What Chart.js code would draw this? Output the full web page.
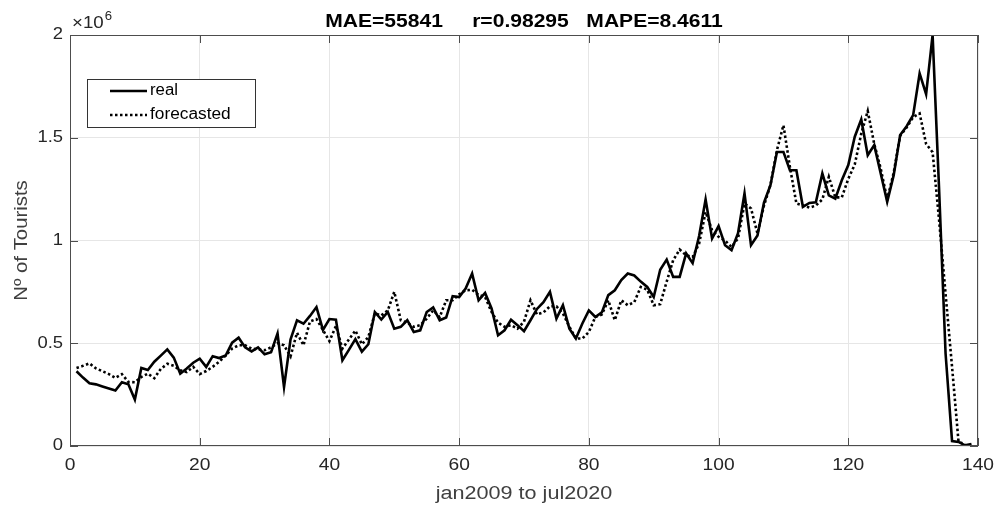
<!DOCTYPE html>
<html lang="en">
<head>
    <meta charset="UTF-8" />
    <title>Tourists forecast</title>
    <style>
        html, body { margin: 0; padding: 0; background: #fff; }
        canvas { display: block; }
    </style>
</head>
<body>

<canvas id="tourChart" width="998" height="508"></canvas>

<script src="https://cdn.jsdelivr.net/npm/chart.js"></script>
<script>
    // month index: 1 = jan2009 ... 139 = jul2020
    const months = Array.from({ length: 139 }, (_, i) => i + 1);

    // tourists (in millions)
    const realM = [
        0.364, 0.333, 0.305, 0.300, 0.290, 0.280, 0.270, 0.310, 0.300, 0.226,
        0.380, 0.370, 0.410, 0.440, 0.470, 0.430, 0.352, 0.377, 0.405, 0.425,
        0.385, 0.437, 0.428, 0.440, 0.503, 0.527, 0.480, 0.460, 0.480, 0.446,
        0.456, 0.547, 0.287, 0.518, 0.611, 0.595, 0.633, 0.676, 0.565, 0.618,
        0.615, 0.417, 0.468, 0.520, 0.459, 0.495, 0.652, 0.615, 0.652, 0.571,
        0.580, 0.612, 0.555, 0.563, 0.652, 0.674, 0.612, 0.625, 0.729, 0.725,
        0.766, 0.839, 0.709, 0.745, 0.669, 0.539, 0.563, 0.614, 0.588, 0.559,
        0.612, 0.667, 0.700, 0.750, 0.620, 0.685, 0.571, 0.523, 0.596, 0.660,
        0.628, 0.650, 0.734, 0.758, 0.807, 0.839, 0.830, 0.800, 0.774, 0.725,
        0.858, 0.907, 0.823, 0.823, 0.937, 0.890, 1.022, 1.200, 1.010, 1.070,
        0.977, 0.953, 1.036, 1.229, 0.977, 1.024, 1.184, 1.269, 1.431, 1.431,
        1.342, 1.342, 1.164, 1.183, 1.186, 1.326, 1.220, 1.204, 1.293, 1.367,
        1.505, 1.589, 1.415, 1.464, 1.326, 1.188, 1.318, 1.513, 1.556, 1.610,
        1.813, 1.712, 2.000, 1.250, 0.450, 0.024, 0.020, 0.003, 0.010
    ];

    const forecastM = [
        0.380, 0.390, 0.402, 0.378, 0.364, 0.350, 0.332, 0.350, 0.312, 0.310,
        0.336, 0.352, 0.330, 0.375, 0.400, 0.390, 0.368, 0.360, 0.385, 0.350,
        0.365, 0.385, 0.410, 0.440, 0.474, 0.490, 0.490, 0.474, 0.470, 0.466,
        0.480, 0.500, 0.490, 0.436, 0.551, 0.490, 0.606, 0.618, 0.565, 0.510,
        0.584, 0.474, 0.518, 0.562, 0.495, 0.530, 0.645, 0.635, 0.660, 0.750,
        0.612, 0.600, 0.580, 0.588, 0.620, 0.660, 0.627, 0.709, 0.709, 0.738,
        0.758, 0.760, 0.735, 0.725, 0.652, 0.600, 0.580, 0.588, 0.571, 0.605,
        0.709, 0.640, 0.650, 0.680, 0.680, 0.645, 0.580, 0.523, 0.523, 0.555,
        0.628, 0.640, 0.709, 0.612, 0.709, 0.685, 0.700, 0.774, 0.761, 0.685,
        0.690, 0.800, 0.904, 0.956, 0.928, 0.920, 0.985, 1.139, 1.050, 1.018,
        1.000, 0.969, 1.010, 1.180, 1.156, 1.034, 1.170, 1.270, 1.440, 1.561,
        1.358, 1.180, 1.170, 1.160, 1.170, 1.200, 1.310, 1.210, 1.210, 1.300,
        1.370, 1.520, 1.630, 1.470, 1.350, 1.200, 1.330, 1.510, 1.550, 1.600,
        1.618, 1.470, 1.430, 1.100, 0.740, 0.385, 0.020, 0.010
    ];

    const xTicks = [0, 20, 40, 60, 80, 100, 120, 140];
    const yTicks = [0, 0.5, 1, 1.5, 2];

    const titleText = 'MAE=55841     r=0.98295   MAPE=8.4611';
    const xLabel = 'jan2009 to jul2020';
    const yLabel = 'Nº of Tourists';

    const FONT = '"Liberation Sans", Arial, Helvetica, sans-serif';
    const TXT = '#262626';

    function toPoints(vals) {
        return vals.map((v, i) => ({ x: months[i], y: Math.round(v * 1e6) }));
    }

    // the reference font runs a bit wider than Arial, so widen the text
    function wideText(ctx, text, x, y, sx, rot) {
        ctx.save();
        ctx.translate(x, y);
        if (rot) ctx.rotate(rot);
        ctx.scale(sx, 1);
        ctx.fillText(text, 0, 0);
        ctx.restore();
    }

    // title, tick labels, axis labels, exponent, box, inner ticks, legend
    const matlabLook = {
        id: 'matlabLook',
        afterDraw(chart) {
            const ctx = chart.ctx;
            const a = chart.chartArea;
            const xs = chart.scales.x, ys = chart.scales.y;
            ctx.save();

            // box + inner ticks
            ctx.strokeStyle = '#4d4d4d';
            ctx.lineWidth = 1;
            ctx.strokeRect(a.left + 0.5, a.top + 0.5, a.right - a.left - 1, a.bottom - a.top - 1);
            ctx.beginPath();
            xTicks.forEach(t => {
                const px = Math.round(xs.getPixelForValue(t)) + 0.5;
                ctx.moveTo(px, a.bottom); ctx.lineTo(px, a.bottom - 8);
                ctx.moveTo(px, a.top); ctx.lineTo(px, a.top + 8);
            });
            yTicks.forEach(t => {
                const py = Math.round(ys.getPixelForValue(t * 1e6)) + 0.5;
                ctx.moveTo(a.left, py); ctx.lineTo(a.left + 8, py);
                ctx.moveTo(a.right, py); ctx.lineTo(a.right - 8, py);
            });
            ctx.stroke();

            // tick labels
            ctx.fillStyle = TXT;
            ctx.font = '16px ' + FONT;
            ctx.textBaseline = 'middle';
            ctx.textAlign = 'center';
            xTicks.forEach(t => wideText(ctx, String(t), xs.getPixelForValue(t), 466, 1.2));
            ctx.textAlign = 'right';
            yTicks.forEach(t => wideText(ctx, String(t), 63, ys.getPixelForValue(t * 1e6), 1.15));

            // title
            ctx.fillStyle = '#000';
            ctx.font = 'bold 18px ' + FONT;
            ctx.textAlign = 'center';
            ctx.textBaseline = 'alphabetic';
            wideText(ctx, titleText, (a.left + a.right) / 2, 27, 1.17);

            // x10^6
            ctx.fillStyle = TXT;
            ctx.textAlign = 'left';
            ctx.font = '17px ' + FONT;
            wideText(ctx, '\u00d710', a.left + 2, 28, 1.1);
            const w = ctx.measureText('\u00d710').width * 1.1;
            ctx.font = '12px ' + FONT;
            wideText(ctx, '6', a.left + 3 + w, 20, 1.1);

            // axis titles
            ctx.fillStyle = '#404040';
            ctx.font = '18px ' + FONT;
            ctx.textAlign = 'center';
            wideText(ctx, xLabel, (a.left + a.right) / 2, 499, 1.2);
            wideText(ctx, yLabel, 27, (a.top + a.bottom) / 2, 1.13, -Math.PI / 2);

            // legend
            const lx = 87, ly = 79, lw = 168, lh = 48;
            ctx.fillStyle = '#fff';
            ctx.fillRect(lx, ly, lw, lh);
            ctx.strokeStyle = '#333';
            ctx.lineWidth = 1;
            ctx.strokeRect(lx + 0.5, ly + 0.5, lw, lh);
            ctx.strokeStyle = '#000';
            ctx.lineWidth = 2.5;
            ctx.beginPath();
            ctx.moveTo(110, 91); ctx.lineTo(147, 91);
            ctx.stroke();
            ctx.setLineDash([2.5, 2.5]);
            ctx.beginPath();
            ctx.moveTo(110, 115); ctx.lineTo(147, 115);
            ctx.stroke();
            ctx.setLineDash([]);
            ctx.fillStyle = '#000';
            ctx.font = '16px ' + FONT;
            ctx.textAlign = 'left';
            ctx.textBaseline = 'middle';
            wideText(ctx, 'real', 150, 91, 1.05);
            wideText(ctx, 'forecasted', 150, 115, 1.08);

            ctx.restore();
        }
    };

    const ctx = document.getElementById('tourChart').getContext('2d');
    new Chart(ctx, {
        type: 'line',
        data: {
            datasets: [{
                label: 'real',
                data: toPoints(realM),
                borderColor: '#000',
                borderWidth: 2.6,
                pointRadius: 0,
                tension: 0,
                fill: false
            }, {
                label: 'forecasted',
                data: toPoints(forecastM),
                borderColor: '#000',
                borderWidth: 2.6,
                borderDash: [2.5, 2.5],
                pointRadius: 0,
                tension: 0,
                fill: false
            }]
        },
        options: {
            responsive: false,
            animation: false,
            layout: { padding: { top: 35, right: 20, left: 0, bottom: 0 } },
            plugins: {
                legend: { display: false },
                title: { display: false },
                tooltip: { enabled: false }
            },
            scales: {
                x: {
                    type: 'linear',
                    min: 0,
                    max: 140,
                    afterBuildTicks: s => { s.ticks = xTicks.map(v => ({ value: v })); },
                    afterFit: s => { s.height = 62; },
                    ticks: { display: false },
                    grid: { color: '#e6e6e6', drawTicks: false },
                    border: { display: false }
                },
                y: {
                    min: 0,
                    max: 2000000,
                    afterBuildTicks: s => { s.ticks = yTicks.map(v => ({ value: v * 1e6 })); },
                    afterFit: s => { s.width = 70; },
                    ticks: { display: false },
                    grid: { color: '#e6e6e6', drawTicks: false },
                    border: { display: false }
                }
            }
        },
        plugins: [matlabLook]
    });
</script>
</body>
</html>
